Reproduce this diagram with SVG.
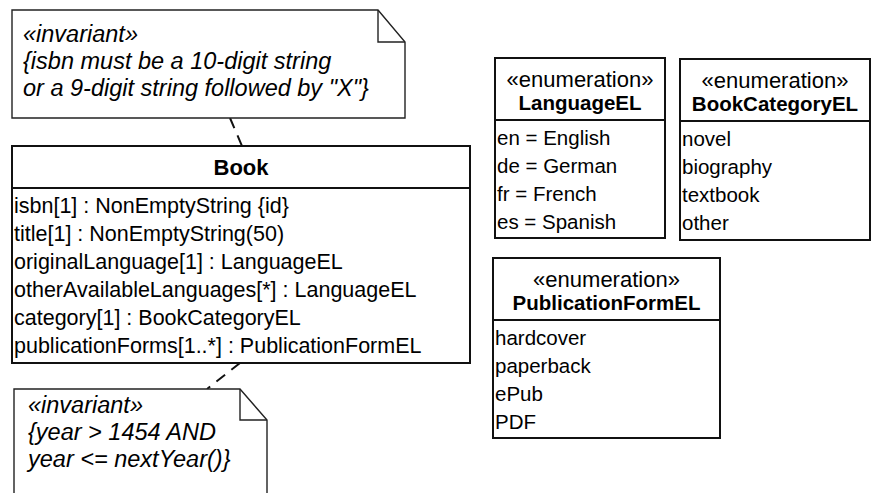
<svg xmlns="http://www.w3.org/2000/svg" width="872" height="493" viewBox="0 0 872 493">
<style>
.box{fill:#fff;stroke:#111;stroke-width:2}
.sep{stroke:#111;stroke-width:2}
.note{fill:#fff;stroke:#222;stroke-width:1.4}
.fold{fill:none;stroke:#222;stroke-width:1.4}
.conn{fill:none;stroke:#111;stroke-width:2;stroke-dasharray:11 8}
.t{font-family:"Liberation Sans",Arial,sans-serif;font-size:20.5px;fill:#000}
.tb{font-family:"Liberation Sans",Arial,sans-serif;font-size:21.5px;fill:#000}
.hd{font-family:"Liberation Sans",Arial,sans-serif;font-size:22px;fill:#000;text-anchor:middle}
.hb{font-family:"Liberation Sans",Arial,sans-serif;font-size:20.5px;font-weight:bold;fill:#000;text-anchor:middle}
.ti{font-family:"Liberation Sans",Arial,sans-serif;font-size:22px;font-weight:bold;fill:#000;text-anchor:middle}
.n{font-family:"Liberation Sans",Arial,sans-serif;font-size:23.5px;font-style:italic;fill:#000}
</style>
<rect width="872" height="493" fill="#fff"/>
<g id="connectors">
<path class="conn" d="M230,118 L242,146"/>
<path class="conn" d="M240,363 L207,389"/>
</g>
<g id="note-isbn">
<path class="note" d="M12,10 H378 L405,42 V118 H12 Z"/>
<path class="fold" d="M378,10 V42 H405"/>
<text class="n" x="23" y="42">«invariant»</text>
<text class="n" x="23" y="69">{isbn must be a 10-digit string</text>
<text class="n" x="23" y="96">or a 9-digit string followed by "X"}</text>
</g>
<g id="book">
<rect class="box" x="12" y="146" width="458" height="217"/>
<line class="sep" x1="12" y1="188" x2="470" y2="188"/>
<text class="ti" x="241" y="175">Book</text>
<text class="tb" x="14" y="213">isbn[1] : NonEmptyString {id}</text>
<text class="tb" x="14" y="241">title[1] : NonEmptyString(50)</text>
<text class="tb" x="14" y="269">originalLanguage[1] : LanguageEL</text>
<text class="tb" x="14" y="297">otherAvailableLanguages[*] : LanguageEL</text>
<text class="tb" x="14" y="325">category[1] : BookCategoryEL</text>
<text class="tb" x="14" y="353">publicationForms[1..*] : PublicationFormEL</text>
</g>
<g id="note-year">
<path class="note" d="M14,389 H240 L267,420 V500 H14 Z"/>
<path class="fold" d="M240,389 V420 H267"/>
<text class="n" x="28" y="413">«invariant»</text>
<text class="n" x="28" y="440">{year &gt; 1454 AND</text>
<text class="n" x="28" y="467">year &lt;= nextYear()}</text>
</g>
<g id="LanguageEL">
<rect class="box" x="495" y="58" width="170" height="180"/>
<line class="sep" x1="495" y1="120" x2="665" y2="120"/>
<text class="hd" x="580" y="87">«enumeration»</text>
<text class="hb" x="580" y="110">LanguageEL</text>
<text class="t" x="497" y="145">en = English</text>
<text class="t" x="497" y="173">de = German</text>
<text class="t" x="497" y="201">fr = French</text>
<text class="t" x="497" y="229">es = Spanish</text>
</g>
<g id="BookCategoryEL">
<rect class="box" x="680" y="59" width="190" height="181"/>
<line class="sep" x1="680" y1="121" x2="870" y2="121"/>
<text class="hd" x="775" y="88">«enumeration»</text>
<text class="hb" x="775" y="111">BookCategoryEL</text>
<text class="t" x="682" y="146">novel</text>
<text class="t" x="682" y="174">biography</text>
<text class="t" x="682" y="202">textbook</text>
<text class="t" x="682" y="230">other</text>
</g>
<g id="PublicationFormEL">
<rect class="box" x="493" y="258" width="227" height="180"/>
<line class="sep" x1="493" y1="320" x2="720" y2="320"/>
<text class="hd" x="606.5" y="287">«enumeration»</text>
<text class="hb" x="606.5" y="310">PublicationFormEL</text>
<text class="t" x="495" y="345">hardcover</text>
<text class="t" x="495" y="373">paperback</text>
<text class="t" x="495" y="401">ePub</text>
<text class="t" x="495" y="429">PDF</text>
</g>
</svg>
